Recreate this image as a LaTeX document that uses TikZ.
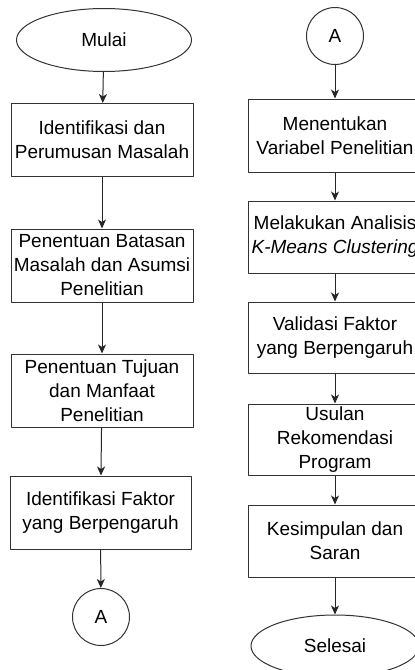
\documentclass[tikz,border=0pt]{standalone}
\usepackage{fontspec}
\setmainfont{Liberation Sans}
\usetikzlibrary{arrows.meta,shapes.geometric}
\begin{document}
\begin{tikzpicture}[x=1pt, y=-1pt, line join=round, >={Stealth[length=9pt,width=8pt,inset=2.5pt]},
	kotak/.style={draw=black!80, line width=1pt, fill=white, minimum width=182pt, minimum height=73pt, align=center, inner sep=1pt, font=\fontsize{19}{24}\selectfont},
	oval/.style={draw=black!80, line width=1pt, ellipse, minimum width=175pt, minimum height=63pt, font=\fontsize{19}{24}\selectfont},
	konektor/.style={draw=black!80, line width=1pt, circle, minimum size=57pt, inner sep=0pt, font=\fontsize{19}{24}\selectfont}]
	\useasboundingbox (0,0) rectangle (415,670);
	\clip (0,0) rectangle (415,670);
	% kolom kiri
	\path
	(104,40) node[oval] (mulai) {Mulai}
	(102,140) node[kotak] (idf) {Identifikasi dan\\Perumusan Masalah}
	(102,265.5) node[kotak] (batas) {Penentuan Batasan\\Masalah dan Asumsi\\Penelitian}
	(102,390.5) node[kotak] (tujuan) {Penentuan Tujuan\\dan Manfaat\\Penelitian}
	(100.5,512.5) node[kotak, minimum width=181pt] (faktor) {Identifikasi Faktor\\yang Berpengaruh}
	(101,617) node[konektor] (konA) {A};
	% kolom kanan
	\path
	(335,36) node[konektor] (konB) {A}
	(335,135.5) node[kotak, minimum width=174pt] (variabel) {Menentukan\\Variabel Penelitian}
	(335,237) node[kotak, minimum width=174pt, minimum height=72pt] (kmeans) {Melakukan Analisis\\\textit{K-Means Clustering}}
	(335,337.5) node[kotak, minimum width=174pt, minimum height=71pt] (validasi) {Validasi Faktor\\yang Berpengaruh}
	(335,439.5) node[kotak, minimum width=174pt, minimum height=71pt] (usulan) {Usulan\\Rekomendasi\\Program}
	(335,541) node[kotak, minimum width=174pt, minimum height=72pt] (simpul) {Kesimpulan dan\\Saran}
	(335,646) node[oval, minimum width=168pt, minimum height=62pt] (selesai) {Selesai};
	\foreach \dari/\ke in {mulai/idf, idf/batas, batas/tujuan, tujuan/faktor, faktor/konA,
		konB/variabel, variabel/kmeans, kmeans/validasi, validasi/usulan, usulan/simpul, simpul/selesai}
	\draw[->, black!85, line width=1pt] (\dari) -- (\ke);
\end{tikzpicture}
\end{document}
